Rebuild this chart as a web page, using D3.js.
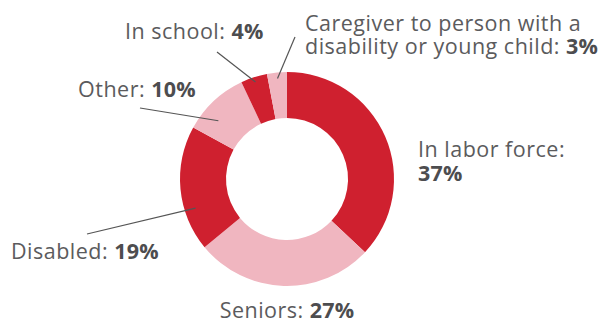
<!DOCTYPE html>
<html>
<head>
<meta charset="utf-8">
<script src="https://cdn.jsdelivr.net/npm/d3@7"></script>
<style>
    body { margin: 0; background: #fff; }
    svg text { font-family: "Open Sans", Lato, sans-serif; font-size: 21.5px; letter-spacing: 0.5px; fill: #5b5b5d; }
    svg text .val { font-weight: bold; fill: #4d4d4f; letter-spacing: 0.2px; }
</style>
</head>
<body>
<svg id="chart" width="599" height="323"></svg>
<script>
// Chart data
const categories = ["In labor force", "Seniors", "Disabled", "Other", "In school", "Caregiver to person with a disability or young child"];
const shares = [37, 27, 19, 10, 4, 3];
const labelLines = [
    ["In labor force:", ""],
    ["Seniors: "],
    ["Disabled: "],
    ["Other: "],
    ["In school: "],
    ["Caregiver to person with a", "disability or young child: "]
];
const sliceColors = ["#cf202f", "#f0b6c0", "#cf202f", "#f0b6c0", "#cf202f", "#f0b6c0"];

// Layout for the labels (position of text, leader line start, where on the slice it points)
const labelLayout = [
    {x: 418, y: 157, anchor: "start", lh: 23.5},
    {x: 287, y: 318, anchor: "middle"},
    {x: 11, y: 259, anchor: "start", line: [87, 234], t: 0.32, r: 96},
    {x: 78, y: 97, anchor: "start", line: [140, 108], t: 0.32, r: 90},
    {x: 125, y: 39, anchor: "start", line: [217, 52], t: 0.5, r: 102},
    {x: 305, y: 31, anchor: "start", lh: 22.5, line: [295, 37], t: 0.5, r: 101}
];

var svg = d3.select("#chart");
var cx = 287, cy = 179, outerR = 107, innerR = 61;

var pie = d3.pie().sort(null).value(d => d);
var arcs = pie(shares);
var arc = d3.arc().innerRadius(innerR).outerRadius(outerR);

var g = svg.append("g").attr("transform", "translate(" + cx + "," + cy + ")");

g.selectAll("path.slice")
    .data(arcs)
    .enter().append("path")
    .attr("class", "slice")
    .attr("d", arc)
    .attr("fill", (d, i) => sliceColors[i]);

// Leader lines
arcs.forEach(function(a, i) {
    var L = labelLayout[i];
    if (!L.line) return;
    var ang = a.startAngle + L.t * (a.endAngle - a.startAngle);
    var px = cx + Math.sin(ang) * L.r;
    var py = cy - Math.cos(ang) * L.r;
    svg.append("line")
        .attr("x1", L.line[0]).attr("y1", L.line[1])
        .attr("x2", px).attr("y2", py)
        .attr("stroke", "#555")
        .attr("stroke-width", 1.2);
});

// Labels, one text element per line
labelLines.forEach(function(lines, i) {
    var L = labelLayout[i];
    lines.forEach(function(line, j) {
        var t = svg.append("text")
            .attr("x", L.x)
            .attr("y", L.y + j * (L.lh || 0))
            .attr("text-anchor", L.anchor);
        if (line !== "") t.append("tspan").text(line);
        if (j === lines.length - 1) {
            t.append("tspan").attr("class", "val").text(shares[i] + "%");
        }
    });
});
</script>
</body>
</html>
